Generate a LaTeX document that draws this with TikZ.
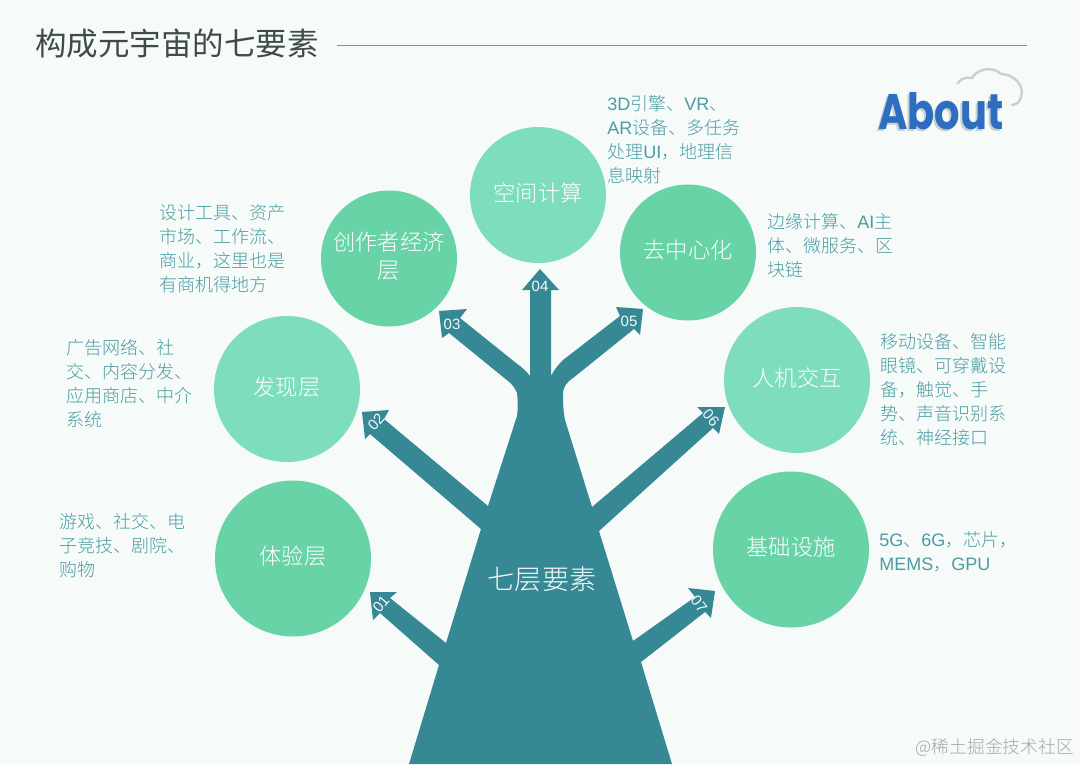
\documentclass[tikz,border=0pt]{standalone}
\usepackage{fontspec}
\setmainfont{Noto Sans CJK SC}
\newfontfamily\lightf{Noto Sans CJK SC Light}
\newfontfamily\lat{Liberation Sans}
\newfontfamily\logofont{Poppins}
\definecolor{bgc}{HTML}{F6FBFA}
\definecolor{trunkc}{HTML}{358894}
\definecolor{greenA}{HTML}{68D3A6}
\definecolor{greenB}{HTML}{7DDDBE}
\definecolor{descc}{HTML}{4B9CA2}
\definecolor{titlec}{HTML}{3F4A4A}
\definecolor{logoc}{HTML}{2E6EC0}
\definecolor{logos}{HTML}{C9CFD3}
\newcommand{\la}[1]{{\lat #1}}
\newcommand{\up}[1]{\raisebox{1.8pt}[0.88em][0.12em]{#1}}
\tikzset{
  x=0.75pt,y=-0.75pt,
  circA/.style={circle,fill=greenA,text=white,minimum size=#1*0.75pt,inner sep=0pt,align=center,font=\lightf\fontsize{16.7pt}{21pt}\selectfont},
  circB/.style={circle,fill=greenB,text=white,minimum size=#1*0.75pt,inner sep=0pt,align=center,font=\lightf\fontsize{16.7pt}{21pt}\selectfont},
  desc/.style={anchor=north west,inner sep=0pt,align=left,text=descc,font=\lightf\fontsize{13.5pt}{18pt}\selectfont},
  num/.style={text=bgc,inner sep=0pt,font=\lat\fontsize{11.25pt}{13pt}\selectfont},
}
\begin{document}
\begin{tikzpicture}
\useasboundingbox (0,0) rectangle (1080,764);
\fill[bgc] (0,0) rectangle (1080,764);

% title
\node[anchor=west,inner sep=0pt,text=titlec,font=\fontsize{23.6pt}{26pt}\selectfont] (title) at (35,44) {构成元宇宙的七要素};
\coordinate (ruleEnd) at (1027,45);
\coordinate (ruleStart) at (337,45);
\draw[color=gray!90,line width=0.7pt] (ruleStart) -- (ruleEnd);

% tree with its seven arrows
\fill[trunkc]
  (409,764) -- (439,665) -- (380,613) -- (373,620) -- (370,592) -- (397,592) -- (390,598) -- (446,643)
  -- (481,529) -- (370,434) -- (365,439) -- (362,412) -- (389,410) -- (384,419) -- (488,506)
  -- (517,416) .. controls (518,408) and (518,402) .. (517,393)
  .. controls (515,388) and (512,384) .. (508,381)
  -- (449,333) -- (442,338) -- (439,311) -- (467,309) -- (460,318) -- (516,363)
  .. controls (523,368) and (527,372) .. (530,376)
  -- (530,290) -- (522,290) -- (540,269) -- (559,290) -- (551,290) -- (551,376)
  .. controls (554,370) and (558,365) .. (563,360)
  -- (620,316) -- (616,307) -- (643,309) -- (640,335) -- (634,329) -- (573,378)
  .. controls (567,382) and (564,386) .. (563,392)
  .. controls (563,400) and (563,410) .. (565,420)
  -- (592,507) -- (703,413) -- (697,407) -- (725,407) -- (719,434) -- (713,428) -- (599,531)
  -- (633,641) -- (695,597) -- (688,588) -- (715,591) -- (711,618) -- (705,612) -- (641,662)
  -- (672,764) -- cycle;

% circles
\node[circA=156] (c1) at (293,558.5) {\up{体验层}};
\node[circB=146] (c2) at (287,389) {\up{发现层}};
\node[circA=136] (c3) at (389,258.5) {\up{创作者经济}\\\up{层}};
\node[circB=136] (c4) at (538,195) {\up{空间计算}};
\node[circA=136] (c5) at (688,252.5) {\up{去中心化}};
\node[circB=146] (c6) at (797,380) {\up{人机交互}};
\node[circA=156] (c7) at (791,549.5) {\up{基础设施}};

% trunk label and numbers
\node[text=bgc,inner sep=0pt,font=\lightf\fontsize{20.4pt}{23pt}\selectfont] (trunk) at (542,579) {七层要素};
\node[num,rotate=50] (n1) at (381,604) {01};
\node[num,rotate=48] (n2) at (376,422) {02};
\node[num] (n3) at (452,324) {03};
\node[num] (n4) at (540,286) {04};
\node[num] (n5) at (629,321) {05};
\node[num,rotate=-50] (n6) at (711,418) {06};
\node[num,rotate=-52] (n7) at (699,604) {07};

% descriptions
\node[desc] (d1) at (59,513) {游戏、社交、电\\子竞技、剧院、\\购物};
\node[desc] (d2) at (66,339) {广告网络、社\\交、内容分发、\\应用商店、中介\\系统};
\node[desc] (d3) at (159,204) {设计工具、资产\\市场、工作流、\\商业，这里也是\\有商机得地方};
\node[desc] (d4) at (607,95) {\la{3D}引擎、\la{VR}、\\\la{AR}设备、多任务\\处理\la{UI}，地理信\\息映射};
\node[desc] (d5) at (767,213) {边缘计算、\la{AI}主\\体、微服务、区\\块链};
\node[desc] (d6) at (880,333) {移动设备、智能\\眼镜、可穿戴设\\备，触觉、手\\势、声音识别系\\统、神经接口};
\node[desc] (d7) at (879,531) {\la{5G}、\la{6G}，芯片，\\\la{MEMS}，\la{GPU}};

% logo
\draw[color=logos,line width=1.8pt,line cap=round]
  (958,83) .. controls (962,78) and (966,77) .. (972,78)
  .. controls (976,70) and (992,65) .. (1001,74)
  .. controls (1014,74) and (1025,86) .. (1021,97)
  .. controls (1020,102) and (1017,104) .. (1012,105);
\node[inner sep=0pt,text=logos,font=\logofont\bfseries\fontsize{30pt}{32pt}\selectfont] (logoS) at (939,113) {\scalebox{1}[1.25]{About}};
\node[inner sep=0pt,text=logoc,font=\logofont\bfseries\fontsize{30pt}{32pt}\selectfont] (logo) at (941,111) {\scalebox{1}[1.25]{About}};

% watermark
\node[anchor=east,inner sep=0pt,text=gray!70,font=\lightf\fontsize{13.3pt}{15pt}\selectfont] (wm) at (1074,747) {@稀土掘金技术社区};
\end{tikzpicture}
\end{document}
